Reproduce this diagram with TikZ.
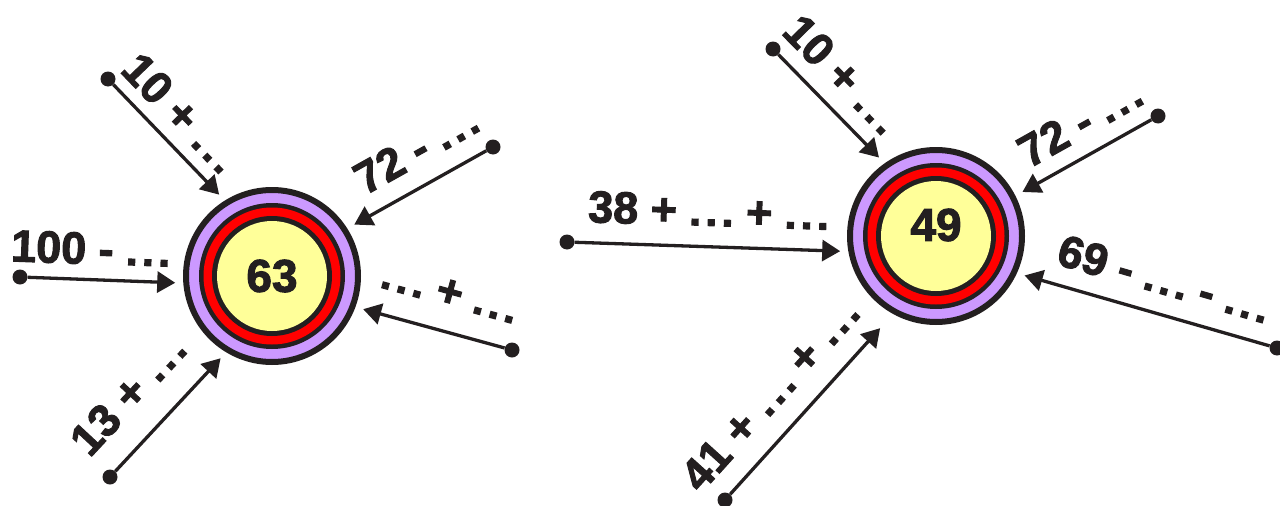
\documentclass[tikz,border=0pt]{standalone}
\usepackage{fontspec}
\setmainfont{Liberation Sans}
\newfontfamily\heavyfont{Liberation Sans Bold}[RawFeature={embolden=2.2}]
\usetikzlibrary{arrows.meta}

\definecolor{inkblack}{HTML}{231F20}
\definecolor{lilac}{HTML}{CC99FF}
\definecolor{ringred}{HTML}{FF0000}
\definecolor{sun}{HTML}{FFFF99}

\newcommand\lblfont{\fontsize{45}{45}\selectfont\heavyfont}
\newcommand\numfont{\fontsize{46}{46}\selectfont\heavyfont}
\newcommand\sq{\rule{.16em}{.16em}}
\newcommand\dts{\kern.05em\sq\kern.2em\sq\kern.2em\sq\kern.05em}

\begin{document}
\begin{tikzpicture}[
    x=1pt, y=-1pt,
    target/.style={circle, draw=inkblack, fill=lilac, line width=6pt, minimum size=172pt,
      inner sep=0pt, outer sep=11pt,
      path picture={
        \fill[inkblack] (path picture bounding box.center) circle[radius=73pt];
        \fill[ringred] (path picture bounding box.center) circle[radius=68.5pt];
        \fill[inkblack] (path picture bounding box.center) circle[radius=60pt];
        \fill[sun] (path picture bounding box.center) circle[radius=55pt];
      }},
    num/.style={font=\numfont, text=inkblack, inner sep=0pt},
    endpt/.style={circle, fill=inkblack, inner sep=0pt, minimum size=15pt},
    arrow/.style={-{Triangle[length=18pt, width=21pt]}, line width=3.3pt, draw=inkblack},
    lbl/.style={font=\lblfont, text=inkblack, sloped, inner sep=0pt, outer sep=0pt}
  ]
    \useasboundingbox (0,0) rectangle (1280,506);

    \node[target] (t1) at (272,276) {};
    \node[num] (n1) at (t1) {63};
    \node[target] (t2) at (936,236) {};
    \node[num] (n2) at ([yshift=11pt]t2.center) {49};

    \foreach \n/\x/\y in {a1/108/79, a2/493/147, a3/512/350, a4/20/277, a5/110/477,
                          b1/773/49, b2/1158/116, b3/1277/348, b4/567/242, b5/725/500}
      \node[endpt] (\n) at (\x,\y) {};

    % left target
    \foreach \s/\ang/\p/\d/\txt in {a1/123/.44/13/{10 + \dts}, a2/32/.40/20/{72 - \dts},
                                    a3/-20/.46/25/{\dts{} + \dts}, a4/184/.42/15/{100 - \dts},
                                    a5/238/.42/27/{13 + \dts}}
      \draw[arrow] (\s) -- node[lbl, pos=\p, above=\d pt] {\txt} (t1.\ang);

    % right target
    \foreach \s/\ang/\p/\d/\txt in {b1/126/.41/16/{10 + \dts}, b2/27/.43/17/{72 - \dts},
                                    b3/-24/.47/19/{69 - \dts{} - \dts}, b4/189/.50/20/{38 + \dts{} + \dts}}
      \draw[arrow] (\s) -- node[lbl, pos=\p, above=\d pt] {\txt} (t2.\ang);
    \draw[arrow, shorten >=11pt] (b5) -- node[lbl, pos=.43, above=22pt] {41 + \dts{} + \dts} (t2.240);
\end{tikzpicture}
\end{document}
